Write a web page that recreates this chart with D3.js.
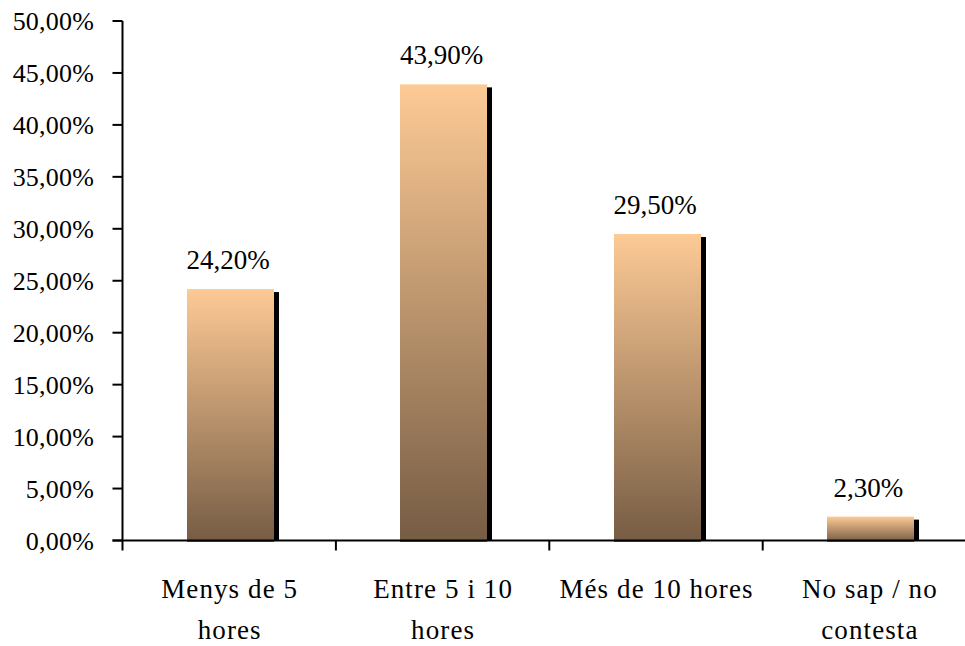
<!DOCTYPE html>
<html><head><meta charset="utf-8">
<script src="https://cdn.jsdelivr.net/npm/d3@7"></script>
<style>body{margin:0;background:#fff}svg{display:block}text{font-family:"Liberation Serif","Times New Roman",serif;fill:#000}</style>
</head><body><div id="c"></div>
<script>
const categories = [["Menys de 5","hores"],["Entre 5 i 10","hores"],["Més de 10 hores"],["No sap / no","contesta"]];
const values = [24.2, 43.9, 29.5, 2.3];
const valueLabels = ["24,20%","43,90%","29,50%","2,30%"];
const yTicks = [0,5,10,15,20,25,30,35,40,45,50];
const yTickLabels = ["0,00%","5,00%","10,00%","15,00%","20,00%","25,00%","30,00%","35,00%","40,00%","45,00%","50,00%"];

const W = 965, H = 646;
const svg = d3.select("#c").append("svg").attr("width", W).attr("height", H);
const defs = svg.append("defs");
const g = defs.append("linearGradient").attr("id","grad").attr("x1",0).attr("y1",0).attr("x2",0).attr("y2",1);
g.append("stop").attr("offset","0%").attr("stop-color","#fdca95");
g.append("stop").attr("offset","100%").attr("stop-color","#765c44");

const x0 = 122.5, y0 = 540.5;
const x = d3.scaleBand().domain(d3.range(categories.length)).range([x0, x0 + 4*213.4]).paddingInner(0).paddingOuter(0);
const y = d3.scaleLinear().domain([0,50]).range([y0, 21]);
const bw = 87;

const bars = svg.append("g");
values.forEach((v,i) => {
  const cx = x(i) + x.bandwidth()/2 + 1;
  const left = Math.round(cx - bw/2);
  bars.append("rect").attr("x", left + bw).attr("y", y(v) + 3).attr("width", 5).attr("height", y0 - y(v) - 3).attr("fill","#000");
  bars.append("rect").attr("x", left).attr("y", y(v)).attr("width", bw).attr("height", y0 - y(v) + 1.5).attr("fill","url(#grad)");
  svg.append("text").attr("x", cx - 2).attr("y", y(v) - 20).attr("text-anchor","middle").attr("font-size", 27).text(valueLabels[i]);
});

const ya = svg.append("g");
ya.append("line").attr("x1",x0).attr("x2",x0).attr("y1",y(50)).attr("y2",y0+10).attr("stroke","#000").attr("stroke-width",2);
yTicks.forEach((t,i) => {
  ya.append("line").attr("x1",x0-10).attr("x2",x0).attr("y1",y(t)).attr("y2",y(t)).attr("stroke","#000").attr("stroke-width",2);
  ya.append("text").attr("x",94).attr("y",y(t)+9).attr("text-anchor","end").attr("font-size",26).attr("letter-spacing","0.2px").text(yTickLabels[i]);
});

const xa = svg.append("g");
xa.append("line").attr("x1",x0-10).attr("x2",W).attr("y1",y0).attr("y2",y0).attr("stroke","#000").attr("stroke-width",2);
categories.forEach((c,i) => {
  if (i > 0) xa.append("line").attr("x1",x(i)).attr("x2",x(i)).attr("y1",y0).attr("y2",y0+10).attr("stroke","#000").attr("stroke-width",2);
  const cx = x(i) + x.bandwidth()/2;
  c.forEach((line,j) => {
    xa.append("text").attr("x",cx + 0.5).attr("y",598 + j*41).attr("text-anchor","middle").attr("font-size",27).attr("letter-spacing","1.1px").text(line);
  });
});
</script></body></html>
